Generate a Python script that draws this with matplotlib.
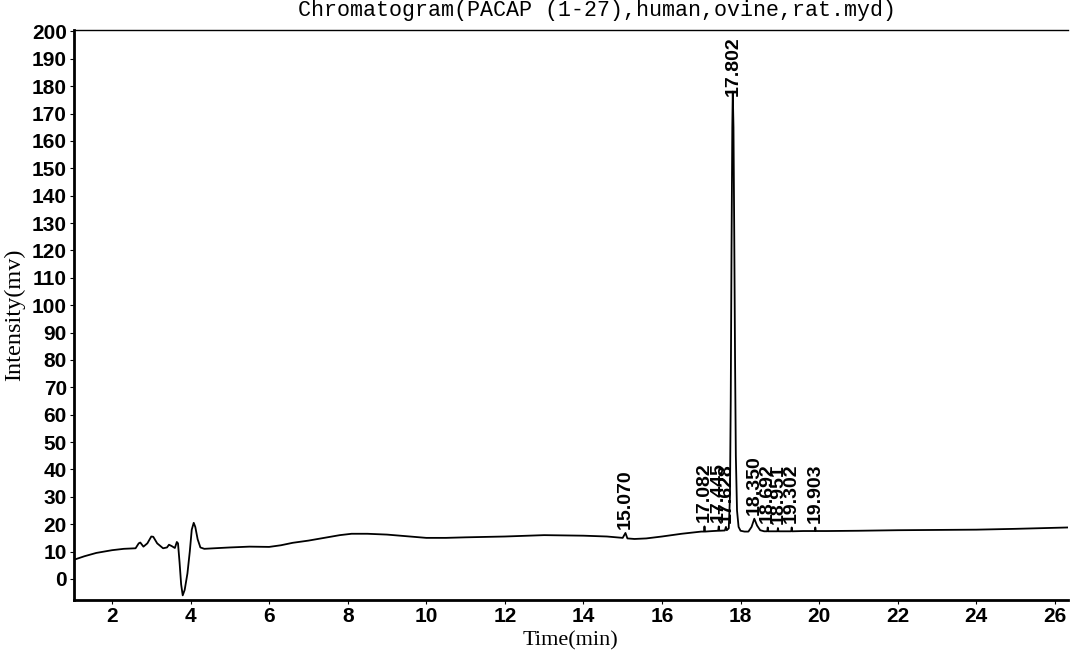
import numpy as np
import matplotlib
matplotlib.use('Agg')
from matplotlib import pyplot as plt

# signal (time in min, intensity in mV)
time = [1.03, 1.3, 1.6, 2.0, 2.3, 2.6, 2.68, 2.72, 2.8, 2.9, 3.0, 3.05, 3.15, 3.3, 3.4, 3.45,
        3.52, 3.6, 3.65, 3.68, 3.72, 3.76, 3.8, 3.85, 3.92, 3.98, 4.03, 4.08, 4.12, 4.18,
        4.25, 4.35, 4.6, 5.0, 5.5, 6.0, 6.3, 6.6, 7.0, 7.4, 7.8, 8.1, 8.5, 9.0, 9.5,
        10.0, 10.5, 11.0, 12.0, 13.0, 14.0, 14.6, 15.0, 15.07, 15.12, 15.3, 15.6, 16.0,
        16.5, 17.0, 17.07, 17.082, 17.095, 17.3, 17.43, 17.445, 17.46, 17.6, 17.628,
        17.65, 17.7, 17.73, 17.75, 17.77, 17.79, 17.802, 17.82, 17.84, 17.86, 17.88,
        17.91, 17.95, 18.0, 18.1, 18.2, 18.28, 18.35, 18.42, 18.5, 18.6, 18.68, 18.692, 18.705,
        18.8, 18.94, 18.951, 18.965, 19.1, 19.29, 19.302, 19.315, 19.6, 19.89, 19.903,
        19.915, 20.2, 21.0, 22.0, 23.0, 24.0, 25.0, 26.33]
intensity = [7.0, 8.3, 9.5, 10.5, 11.0, 11.2, 13.0, 13.3, 11.8, 13.0, 15.5, 15.4, 13.0, 11.2, 11.5, 12.5,
             12.0, 11.3, 13.5, 13.0, 6.0, -2.0, -6.0, -4.0, 2.0, 10.0, 18.0, 20.5, 19.0, 14.5,
             11.5, 11.0, 11.2, 11.5, 11.8, 11.7, 12.3, 13.2, 14.0, 15.0, 16.0, 16.5, 16.5, 16.2, 15.6,
             15.0, 15.0, 15.2, 15.5, 16.0, 15.8, 15.5, 15.0, 16.8, 14.8, 14.6, 14.8, 15.5,
             16.5, 17.3, 17.3, 19.2, 17.3, 17.5, 17.6, 19.2, 17.6, 17.7, 19.0,
             17.8, 18.5, 30.0, 65.0, 120.0, 165.0, 178.0, 165.0, 125.0, 80.0, 45.0,
             25.0, 19.0, 17.6, 17.3, 17.3, 19.0, 22.0, 19.5, 17.8, 17.4, 17.4, 18.8, 17.4,
             17.4, 17.4, 18.6, 17.4, 17.4, 17.4, 18.8, 17.4, 17.5, 17.5, 18.8,
             17.5, 17.5, 17.6, 17.8, 17.9, 18.0, 18.3, 18.8]

peak_rt = [15.070, 17.082, 17.445, 17.628, 17.802, 18.350, 18.692, 18.951, 19.302, 19.903]
peak_labels = ['15.070', '17.082', '17.445', '17.628', '17.802', '18.350', '18.692', '18.951', '19.302', '19.903']
peak_top = [16.8, 19.2, 19.2, 19.0, 175.0, 22.0, 18.8, 18.6, 18.8, 18.8]

fig = plt.figure(figsize=(10.71, 6.59), dpi=100)
ax = fig.add_axes([0.069, 0.0895, 0.928, 0.8645])

ax.plot(time, intensity, color='black', lw=1.3)

for rt, lab, top in zip(peak_rt, peak_labels, peak_top):
    ax.text(rt, top + 1.5, lab, rotation=90, ha='center', va='bottom',
            fontsize=14, fontweight='bold', family='Liberation Sans')

ax.set_xlim(1.03, 26.33)
ax.set_ylim(-7.7, 200.4)
ax.set_xticks(np.arange(2, 27, 2))
ax.set_yticks(np.arange(0, 201, 10))
for t in ax.get_xticklabels() + ax.get_yticklabels():
    t.set_family('Liberation Sans')
    t.set_fontweight('bold')
    t.set_fontsize(15)
ax.tick_params(direction='out', length=3, width=0.8, pad=2)

ax.spines['right'].set_visible(False)
ax.spines['left'].set_linewidth(2)
ax.spines['bottom'].set_linewidth(2)
ax.spines['top'].set_linewidth(1)

ax.set_xlabel('Time(min)', family='Liberation Serif', fontsize=16, labelpad=4)
ax.set_ylabel('Intensity(mv)', family='Liberation Serif', fontsize=17.5, labelpad=5)
ax.set_title('Chromatogram(PACAP (1-27),human,ovine,rat.myd)', family='Liberation Mono',
             fontsize=15.6, pad=10, x=0.526)

plt.savefig('out.png', dpi=100)
